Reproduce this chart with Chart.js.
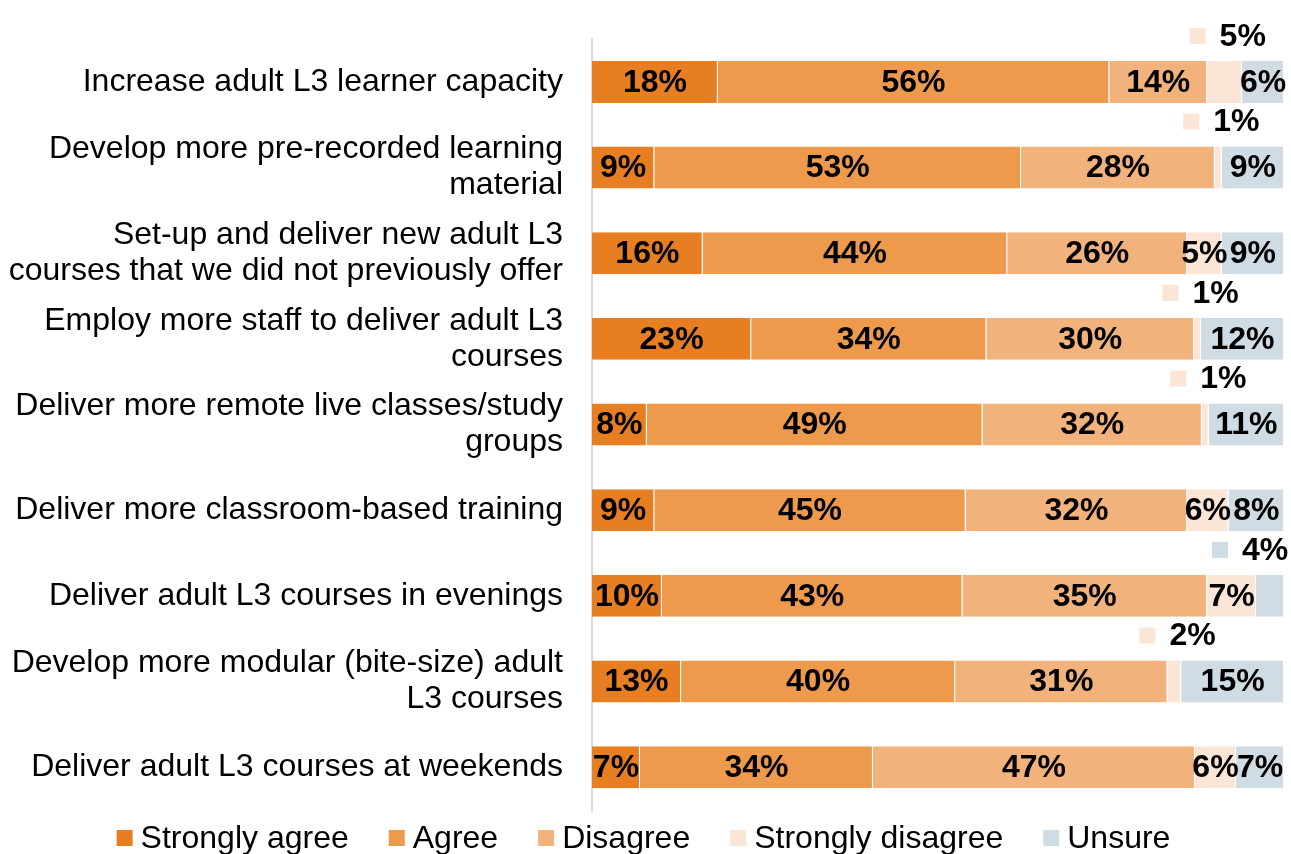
<!DOCTYPE html>
<html>
<head>
<meta charset="utf-8">
<script src="https://cdn.jsdelivr.net/npm/chart.js@4.4.1/dist/chart.umd.min.js"></script>
<style>
  html, body { margin: 0; padding: 0; background: #fff; overflow: hidden; }
  #wrap { width: 1291px; height: 854px; position: relative; }
</style>
</head>
<body>
<div id="wrap"><canvas id="chart"></canvas></div>
<script>
const categories = [
  'Increase adult L3 learner capacity',
  ['Develop more pre-recorded learning', 'material'],
  ['Set-up and deliver new adult L3', 'courses that we did not previously offer'],
  ['Employ more staff to deliver adult L3', 'courses'],
  ['Deliver more remote live classes/study', 'groups'],
  'Deliver more classroom-based training',
  'Deliver adult L3 courses in evenings',
  ['Develop more modular (bite-size) adult', 'L3 courses'],
  'Deliver adult L3 courses at weekends'
];

const stronglyAgree    = [18, 9, 16, 23, 8, 9, 10, 13, 7];
const agree            = [56, 53, 44, 34, 49, 45, 43, 40, 34];
const disagree         = [14, 28, 26, 30, 32, 32, 35, 31, 47];
const stronglyDisagree = [5, 1, 5, 1, 1, 6, 7, 2, 6];
const unsure           = [6, 9, 9, 12, 11, 8, 4, 15, 7];

// which labels sit above the bar with a little key square
const sdOutside     = [true, true, false, true, true, false, false, true, false];
const unsureOutside = [false, false, false, false, false, false, true, false, false];

const seriesNames = ['Strongly agree', 'Agree', 'Disagree', 'Strongly disagree', 'Unsure'];
const colors = ['#E87E22', '#EE9A4D', '#F2B27B', '#FBE5D6', '#D0DCE3'];

const raw = [stronglyAgree, agree, disagree, stronglyDisagree, unsure];
const outside = [null, null, null, sdOutside, unsureOutside];
const rowTotals = categories.map((c, i) => raw.reduce((s, arr) => s + arr[i], 0));

const FONT = '"Liberation Sans", Arial, sans-serif';
const FS = 32;

const labelPlugin = {
  id: 'segLabels',
  afterDatasetsDraw(chart) {
    const ctx = chart.ctx;
    const right = chart.chartArea.right;
    ctx.save();
    ctx.font = 'bold ' + FS + 'px ' + FONT;
    chart.data.datasets.forEach((ds, di) => {
      const meta = chart.getDatasetMeta(di);
      meta.data.forEach((bar, i) => {
        const text = raw[di][i] + '%';
        const cx = (bar.x + bar.base) / 2;
        ctx.fillStyle = '#000';
        if (outside[di] && outside[di][i]) {
          const sy = bar.y - bar.height / 2 - 25;
          const sx = Math.min(cx - 27, right - 64);
          ctx.fillStyle = colors[di];
          ctx.fillRect(sx - 8, sy - 8, 16, 16);
          ctx.fillStyle = '#000';
          ctx.textAlign = 'left';
          ctx.textBaseline = 'middle';
          ctx.fillText(text, sx + 22, sy + 1);
        } else {
          ctx.textAlign = 'center';
          ctx.textBaseline = 'middle';
          ctx.fillText(text, cx, bar.y + 1);
        }
      });
    });
    ctx.restore();
  }
};

// legend drawn under the plot, centred on the canvas
const legendPlugin = {
  id: 'bottomLegend',
  afterDraw(chart) {
    const ctx = chart.ctx;
    ctx.save();
    ctx.font = FS + 'px ' + FONT;
    const box = 16, gapBox = 8, gapItem = 40;
    const widths = seriesNames.map(n => box + gapBox + ctx.measureText(n).width);
    const total = widths.reduce((a, b) => a + b, 0) + gapItem * (widths.length - 1);
    let x = (chart.width - total) / 2 - 2;
    const y = chart.chartArea.bottom + 28;
    seriesNames.forEach((n, i) => {
      ctx.fillStyle = colors[i];
      ctx.fillRect(x, y - box / 2, box, box);
      ctx.fillStyle = '#000';
      ctx.textAlign = 'left';
      ctx.textBaseline = 'middle';
      ctx.fillText(n, x + box + gapBox, y + 1);
      x += widths[i] + gapItem;
    });
    ctx.restore();
  }
};

new Chart(document.getElementById('chart'), {
  type: 'bar',
  data: {
    labels: categories,
    datasets: seriesNames.map((name, di) => ({
      label: name,
      data: raw[di].map((v, i) => v / rowTotals[i] * 100),
      backgroundColor: colors[di],
      borderColor: '#ffffff',
      borderWidth: { left: 0, right: 1, top: 0, bottom: 0 },
      borderSkipped: false,
      categoryPercentage: 1,
      barPercentage: 0.49
    }))
  },
  options: {
    indexAxis: 'y',
    responsive: true,
    maintainAspectRatio: false,
    animation: false,
    layout: { padding: { top: 34, right: 7, left: 0, bottom: 44 } },
    scales: {
      x: {
        stacked: true,
        display: false,
        min: 0,
        max: 100
      },
      y: {
        stacked: true,
        grid: { display: false },
        border: { display: true, color: '#D9D9D9', width: 2 },
        afterFit(scale) { scale.width = 592; },
        ticks: {
          color: '#000',
          font: { family: FONT, size: FS, lineHeight: 1.13 },
          padding: 21,
          autoSkip: false
        }
      }
    },
    plugins: {
      legend: { display: false },
      tooltip: { enabled: false }
    }
  },
  plugins: [labelPlugin, legendPlugin]
});
</script>
</body>
</html>
